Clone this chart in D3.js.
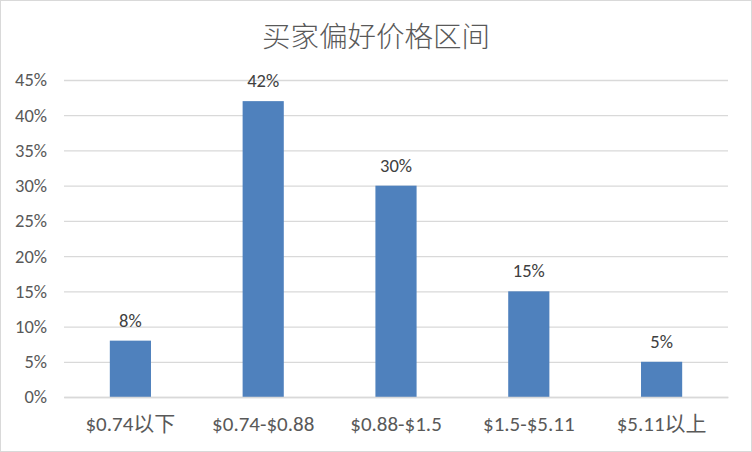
<!DOCTYPE html>
<html><head><meta charset="utf-8">
<script src="https://cdn.jsdelivr.net/npm/d3@7"></script>
<style>body{margin:0;background:#fff}svg{display:block}</style>
</head><body>
<svg id="c" width="752" height="452"></svg>
<script>
const title = "买家偏好价格区间";
const categories = ["$0.74以下", "$0.74-$0.88", "$0.88-$1.5", "$1.5-$5.11", "$5.11以上"];
const values = [0.08, 0.42, 0.30, 0.15, 0.05];
const yTicks = [0, 0.05, 0.10, 0.15, 0.20, 0.25, 0.30, 0.35, 0.40, 0.45];

const W = 752, H = 452;
const m = {left: 64, right: 24, top: 80, bottom: 55};
const svg = d3.select("#c");
const font = "Calibri, Carlito, 'Noto Sans CJK SC', sans-serif";
const cjk = "'Noto Sans CJK SC', sans-serif";

svg.append("rect").attr("x",0.5).attr("y",0.5).attr("width",W-1).attr("height",H-1)
  .attr("fill","#fff").attr("stroke","#d9d9d9");

const x = d3.scaleBand().domain(categories).range([m.left, W - m.right]).paddingInner(0.69).paddingOuter(0.345);
const y = d3.scaleLinear().domain([0, 0.45]).range([H - m.bottom, m.top]);

// gridlines
const yAxis = d3.axisLeft(y).tickValues(yTicks).tickFormat(d3.format(".0%")).tickSize(-(W - m.left - m.right)).tickPadding(17);
const ga = svg.append("g").attr("transform", `translate(${m.left},0)`).call(yAxis);
ga.select(".domain").remove();
ga.selectAll(".tick line").attr("stroke", "#d9d9d9").attr("stroke-width", 1.3);
ga.selectAll(".tick text").attr("fill", "#595959").style("font-family", font).style("font-size", "18.5px");

// bars
svg.append("g").selectAll("rect").data(values).join("rect")
  .attr("x", (d,i) => x(categories[i]))
  .attr("y", d => y(d))
  .attr("width", x.bandwidth())
  .attr("height", d => y(0) - y(d))
  .attr("fill", "#4F81BD");

// data labels
svg.append("g").selectAll("text").data(values).join("text")
  .attr("x", (d,i) => x(categories[i]) + x.bandwidth()/2)
  .attr("y", d => y(d) - 14)
  .attr("text-anchor", "middle")
  .attr("fill", "#404040")
  .style("font-family", font).style("font-size", "18.5px")
  .text(d => d3.format(".0%")(d));

// x axis
const xa = svg.append("g").attr("transform", `translate(0,${y(0)})`).call(d3.axisBottom(x).tickSize(0).tickPadding(19));
xa.select(".domain").attr("stroke", "#d9d9d9").attr("stroke-width", 1.3);
xa.selectAll(".tick text").attr("fill", "#595959").style("font-family", font).style("font-size", "21px");

// title
svg.append("text").attr("x", W/2).attr("y", 47).attr("text-anchor", "middle")
  .attr("fill", "#595959").style("font-family", cjk)
  .style("font-size", "28.5px").style("font-weight", 300).text(title);
</script>
</body></html>
